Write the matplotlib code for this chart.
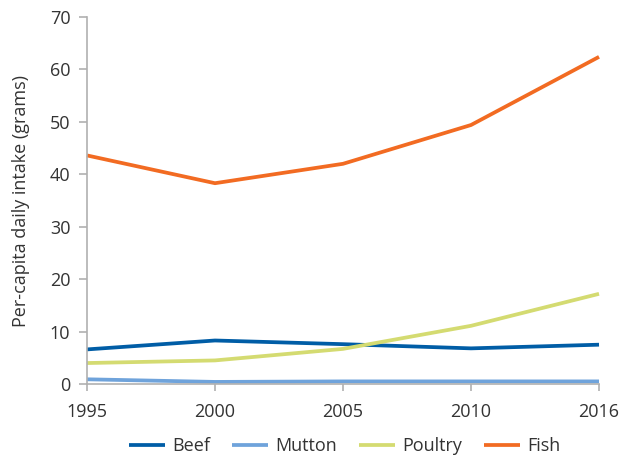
import matplotlib
matplotlib.use("Agg")
import matplotlib.pyplot as plt

years = ["1995", "2000", "2005", "2010", "2016"]
beef = [6.6, 8.3, 7.6, 6.8, 7.5]
mutton = [0.9, 0.4, 0.5, 0.5, 0.5]
poultry = [4.0, 4.5, 6.7, 11.1, 17.2]
fish = [43.6, 38.3, 42.0, 49.4, 62.4]
series_names = ["Beef", "Mutton", "Poultry", "Fish"]
colors = ["#005DA6", "#6FA3DB", "#D4DB71", "#F26B22"]
yticks = [0, 10, 20, 30, 40, 50, 60, 70]

plt.rcParams['font.family'] = ['Open Sans', 'DejaVu Sans']

fig = plt.figure(figsize=(6.23, 4.62), dpi=100)
ax = fig.add_axes([0.1396, 0.1688, 0.8219, 0.7944])

x = list(range(len(years)))
for name, vals, c in zip(series_names, [beef, mutton, poultry, fish], colors):
    ax.plot(x, vals, color=c, lw=2.7, label=name, solid_capstyle='butt')

ax.set_xlim(0, len(years) - 1)
ax.set_ylim(0, 70)
ax.set_xticks(x)
ax.set_xticklabels(years)
ax.set_yticks(yticks)
for s in ['top', 'right']:
    ax.spines[s].set_visible(False)
for s in ['left', 'bottom']:
    ax.spines[s].set_color('#B0B0B0')
    ax.spines[s].set_linewidth(1.2)
ax.tick_params(axis='both', colors='#B0B0B0', labelcolor='#333333',
               labelsize=13, width=1.2, direction='out')
ax.tick_params(axis='x', length=5, pad=9)
ax.tick_params(axis='y', length=6, pad=6)
ax.set_ylabel("Per-capita daily intake (grams)", fontsize=13, color='#333333', labelpad=14)
for l in ax.lines:
    l.set_clip_on(False)

leg = fig.legend(loc='lower center', ncol=4, frameon=False, fontsize=13,
                 bbox_to_anchor=(0.553, -0.02), handlelength=2.0, columnspacing=1.2,
                 handletextpad=0.4)
for t in leg.get_texts():
    t.set_color('#333333')

fig.savefig("out.png", dpi=100)
